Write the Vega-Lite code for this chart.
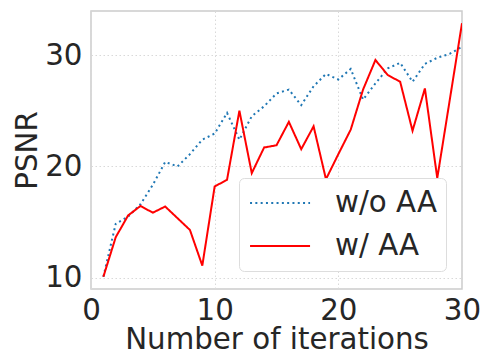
{
  "$schema": "https://vega.github.io/schema/vega-lite/v6.json",
  "autosize": "none",
  "width": 371,
  "height": 278,
  "padding": {"left": 91, "top": 11, "right": 24, "bottom": 65},
  "background": "white",
  "config": {
    "font": "DejaVu Sans",
    "view": {"stroke": "#cccccc", "strokeWidth": 1.5},
    "axis": {
      "domain": false,
      "ticks": false,
      "grid": true,
      "gridColor": "#d9d9d9",
      "gridDash": [1.5, 2.5],
      "gridWidth": 1,
      "labelFlush": false,
      "labelFont": "DejaVu Sans",
      "labelFontSize": 29.3,
      "labelColor": "#262626",
      "titleFont": "DejaVu Sans",
      "titleFontSize": 29.3,
      "titleFontWeight": "normal",
      "titleColor": "#262626"
    }
  },
  "data": {
    "values": [
      {"it": 1, "psnr": 10.1, "method": "w/o AA"},
      {"it": 2, "psnr": 14.85, "method": "w/o AA"},
      {"it": 3, "psnr": 15.5, "method": "w/o AA"},
      {"it": 4, "psnr": 16.6, "method": "w/o AA"},
      {"it": 5, "psnr": 18.35, "method": "w/o AA"},
      {"it": 6, "psnr": 20.4, "method": "w/o AA"},
      {"it": 7, "psnr": 20.0, "method": "w/o AA"},
      {"it": 8, "psnr": 21.1, "method": "w/o AA"},
      {"it": 9, "psnr": 22.4, "method": "w/o AA"},
      {"it": 10, "psnr": 22.95, "method": "w/o AA"},
      {"it": 11, "psnr": 24.8, "method": "w/o AA"},
      {"it": 12, "psnr": 22.4, "method": "w/o AA"},
      {"it": 13, "psnr": 24.5, "method": "w/o AA"},
      {"it": 14, "psnr": 25.4, "method": "w/o AA"},
      {"it": 15, "psnr": 26.55, "method": "w/o AA"},
      {"it": 16, "psnr": 26.9, "method": "w/o AA"},
      {"it": 17, "psnr": 25.5, "method": "w/o AA"},
      {"it": 18, "psnr": 27.2, "method": "w/o AA"},
      {"it": 19, "psnr": 28.3, "method": "w/o AA"},
      {"it": 20, "psnr": 27.8, "method": "w/o AA"},
      {"it": 21, "psnr": 28.75, "method": "w/o AA"},
      {"it": 22, "psnr": 26.0, "method": "w/o AA"},
      {"it": 23, "psnr": 27.45, "method": "w/o AA"},
      {"it": 24, "psnr": 28.8, "method": "w/o AA"},
      {"it": 25, "psnr": 29.3, "method": "w/o AA"},
      {"it": 26, "psnr": 27.6, "method": "w/o AA"},
      {"it": 27, "psnr": 29.2, "method": "w/o AA"},
      {"it": 28, "psnr": 29.75, "method": "w/o AA"},
      {"it": 29, "psnr": 30.1, "method": "w/o AA"},
      {"it": 30, "psnr": 30.75, "method": "w/o AA"},
      {"it": 1, "psnr": 10.1, "method": "w/ AA"},
      {"it": 2, "psnr": 13.65, "method": "w/ AA"},
      {"it": 3, "psnr": 15.6, "method": "w/ AA"},
      {"it": 4, "psnr": 16.45, "method": "w/ AA"},
      {"it": 5, "psnr": 15.85, "method": "w/ AA"},
      {"it": 6, "psnr": 16.4, "method": "w/ AA"},
      {"it": 7, "psnr": 15.35, "method": "w/ AA"},
      {"it": 8, "psnr": 14.3, "method": "w/ AA"},
      {"it": 9, "psnr": 11.1, "method": "w/ AA"},
      {"it": 10, "psnr": 18.2, "method": "w/ AA"},
      {"it": 11, "psnr": 18.8, "method": "w/ AA"},
      {"it": 12, "psnr": 25.0, "method": "w/ AA"},
      {"it": 13, "psnr": 19.4, "method": "w/ AA"},
      {"it": 14, "psnr": 21.7, "method": "w/ AA"},
      {"it": 15, "psnr": 21.9, "method": "w/ AA"},
      {"it": 16, "psnr": 24.0, "method": "w/ AA"},
      {"it": 17, "psnr": 21.55, "method": "w/ AA"},
      {"it": 18, "psnr": 23.6, "method": "w/ AA"},
      {"it": 19, "psnr": 18.85, "method": "w/ AA"},
      {"it": 20, "psnr": 21.1, "method": "w/ AA"},
      {"it": 21, "psnr": 23.3, "method": "w/ AA"},
      {"it": 22, "psnr": 26.9, "method": "w/ AA"},
      {"it": 23, "psnr": 29.55, "method": "w/ AA"},
      {"it": 24, "psnr": 28.2, "method": "w/ AA"},
      {"it": 25, "psnr": 27.6, "method": "w/ AA"},
      {"it": 26, "psnr": 23.2, "method": "w/ AA"},
      {"it": 27, "psnr": 27.0, "method": "w/ AA"},
      {"it": 28, "psnr": 18.95, "method": "w/ AA"},
      {"it": 29, "psnr": 25.9, "method": "w/ AA"},
      {"it": 30, "psnr": 32.85, "method": "w/ AA"}
    ]
  },
  "mark": {"type": "line", "strokeWidth": 2, "clip": true},
  "encoding": {
    "x": {
      "field": "it", "type": "quantitative",
      "scale": {"domain": [0, 30], "nice": false, "zero": false},
      "axis": {"values": [0, 10, 20, 30], "title": "Number of iterations", "labelPadding": 7, "titlePadding": 0}
    },
    "y": {
      "field": "psnr", "type": "quantitative",
      "scale": {"domain": [9.0, 33.95], "nice": false, "zero": false},
      "axis": {"values": [10, 20, 30], "title": "PSNR", "labelPadding": 9, "titlePadding": 2}
    },
    "color": {
      "field": "method", "type": "nominal",
      "scale": {"domain": ["w/o AA", "w/ AA"], "range": ["#1f77b4", "#ff0000"]},
      "legend": {
        "title": null,
        "orient": "none",
        "legendX": 148,
        "legendY": 167,
        "symbolType": "M-0.93,0H3.07",
        "symbolSize": 900,
        "symbolStrokeWidth": 2,
        "symbolFillColor": "transparent",
        "labelFontSize": 29.3,
        "labelColor": "#262626",
        "labelOffset": 55,
        "rowPadding": 11,
        "padding": 9,
        "fillColor": "white",
        "strokeColor": "#dddddd",
        "cornerRadius": 5
      }
    },
    "strokeDash": {
      "field": "method", "type": "nominal",
      "scale": {"domain": ["w/o AA", "w/ AA"], "range": [[2, 3.3], [1, 0]]},
      "legend": null
    }
  }
}
